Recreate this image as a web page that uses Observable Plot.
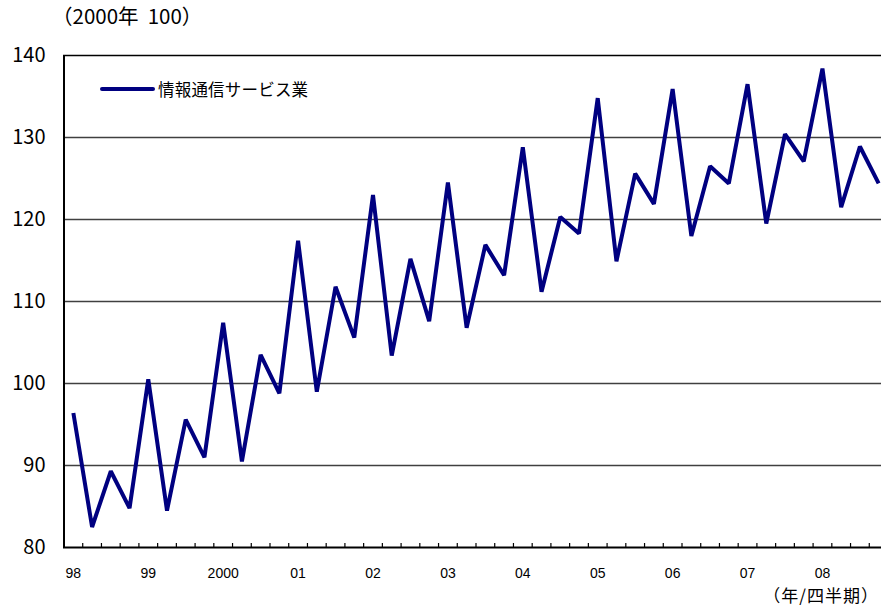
<!DOCTYPE html>
<html>
<head>
<meta charset="utf-8">
<script src="https://cdn.jsdelivr.net/npm/d3@7"></script>
<script src="https://cdn.jsdelivr.net/npm/@observablehq/plot@0.6"></script>
<style>
  body { margin: 0; background: #fff; }
  #wrap { position: relative; width: 881px; height: 608px; overflow: hidden; background: #fff;
          font-family: "Noto Sans CJK JP", "DejaVu Sans", sans-serif; color: #000; }
  #title { position: absolute; left: 52px; top: 3px; font-size: 20.5px; white-space: pre; line-height: 24px; }
  #chart { position: absolute; left: 0; top: 32px; }
  #legend { position: absolute; left: 100px; top: 78px; display: flex; align-items: center; height: 22px; }
  #legend .sw { width: 55px; height: 4px; background: #000080; border-radius: 2px; }
  #legend .lb { margin-left: 3px; font-size: 16.5px; letter-spacing: 0.2px; }
  #unit { position: absolute; right: 2px; top: 586px; font-size: 17px; line-height: 18px; letter-spacing: 1px; white-space: pre; }
</style>
</head>
<body>
<div id="wrap">
  <div id="title"></div>
  <div id="chart"></div>
  <div id="legend"><div class="sw"></div><div class="lb"></div></div>
  <div id="unit"></div>
</div>
<script>
// ---- data ----
const titleText = "（2000年  100）";
const seriesName = "情報通信サービス業";
const unitText = "（年/四半期）";
const yearLabels = ["98", "99", "2000", "01", "02", "03", "04", "05", "06", "07", "08"];
const yTicks = [80, 90, 100, 110, 120, 130, 140];
const values = [
  96.4, 82.5, 89.3, 84.8,      // 1998
  100.5, 84.5, 95.6, 91.0,     // 1999
  107.4, 90.5, 103.5, 98.8,    // 2000
  117.4, 99.0, 111.8, 105.6,   // 2001
  123.0, 103.4, 115.2, 107.6,  // 2002
  124.5, 106.8, 116.9, 113.2,  // 2003
  128.8, 111.2, 120.3, 118.3,  // 2004
  134.8, 114.9, 125.6, 121.9,  // 2005
  135.9, 118.0, 126.5, 124.4,  // 2006
  136.5, 119.5, 130.4, 127.1,  // 2007
  138.4, 121.5, 128.9, 124.4   // 2008
];

// ---- derived ----
const data = values.map((v, i) => ({i, v}));
const labelIdx = yearLabels.map((_, k) => k * 4);
const bounds = d3.range(values.length - 1).map(k => k + 0.5);

document.getElementById("title").textContent = titleText;
document.querySelector("#legend .lb").textContent = seriesName;
document.getElementById("unit").textContent = unitText;

const chart = Plot.plot({
  width: 881,
  height: 576,
  marginTop: 23,
  marginBottom: 61,
  marginLeft: 63,
  marginRight: 0,
  style: { fontFamily: "'Noto Sans CJK JP', 'DejaVu Sans', sans-serif", background: "#fff", overflow: "visible" },
  x: { domain: [-0.5, values.length - 0.5], range: [63.5, 887.5] },
  y: { domain: [80, 140] },
  marks: [
    Plot.ruleY(yTicks.filter(t => t > 80 && t < 140), { stroke: "#404040", strokeWidth: 1.3 }),
    Plot.ruleY([140], { stroke: "#000", strokeWidth: 1.5 }),
    Plot.axisY(yTicks, { tickSize: 0, tickPadding: 18, fontSize: 20, label: null, textAnchor: "end", color: "#000" }),
    Plot.axisX(bounds, { tickSize: -4, tickFormat: () => "", label: null, strokeWidth: 1.2, color: "#000" }),
    Plot.axisX(labelIdx, { tickSize: 0, tickPadding: 21, fontSize: 14, fontFamily: "'Liberation Sans', Arial, sans-serif",
      label: null, tickFormat: (d) => yearLabels[d / 4], color: "#000" }),
    Plot.ruleY([80], { stroke: "#000", strokeWidth: 2 }),
    Plot.ruleX([-0.5], { stroke: "#000", strokeWidth: 2 }),
    Plot.line(data, { x: "i", y: "v", stroke: "#000080", strokeWidth: 4, strokeLinejoin: "miter", strokeLinecap: "butt" })
  ]
});
document.getElementById("chart").appendChild(chart);
</script>
</body>
</html>
